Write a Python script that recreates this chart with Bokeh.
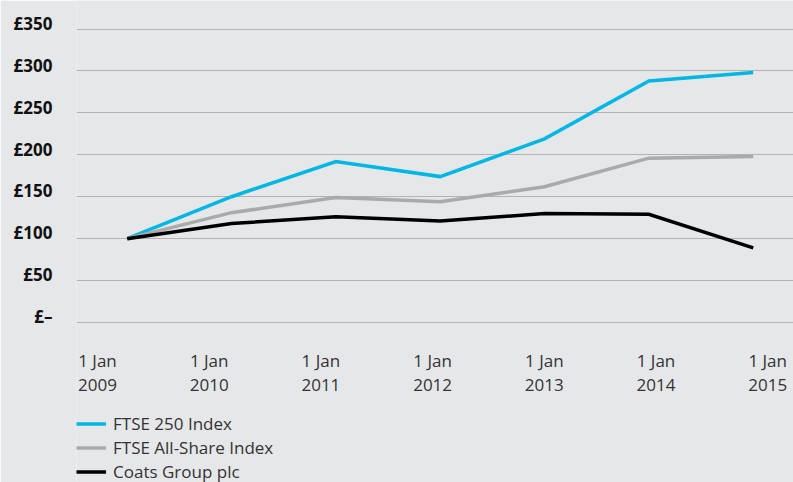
import re
from bokeh.plotting import figure
from bokeh.models import Range1d, LinearAxis, FixedTicker, Legend, LegendItem
from bokeh.embed import file_html
from bokeh.resources import INLINE

# ---- data ----
years = ["2009", "2010", "2011", "2012", "2013", "2014", "2015"]
x_labels = ["1 Jan\n" + y for y in years]
ftse250 = [100, 150, 192, 174, 219, 288, 298]
ftse_all = [100, 131, 149, 144, 162, 196, 198]
coats = [100, 118, 126, 121, 130, 129, 89]
y_ticks = [0, 50, 100, 150, 200, 250, 300, 350]
y_tick_labels = ["£–", "£50", "£100", "£150", "£200", "£250", "£300", "£350"]
series_names = ["FTSE 250 Index", "FTSE All-Share Index", "Coats Group plc"]

BG = "#E6E7E9"
FONT = "Open Sans"

xs = list(range(len(years)))

p = figure(width=793, height=482, output_backend="svg", toolbar_location=None,
           x_range=Range1d(-0.486, 6.386), y_range=Range1d(-190.8, 384.0),
           x_axis_location=None, min_border_left=76, min_border_right=0,
           min_border_top=0, min_border_bottom=0)
p.background_fill_color = BG
p.border_fill_color = BG
p.outline_line_color = None

p.extra_x_ranges = {"lbl": Range1d(-0.188, 6.231)}
xa = LinearAxis(x_range_name="lbl", ticker=FixedTicker(ticks=xs),
                major_label_overrides={i: l for i, l in enumerate(x_labels)},
                fixed_location=0)
xa.axis_line_color = None
xa.major_tick_line_color = None
xa.minor_tick_line_color = None
xa.major_label_standoff = 20
xa.major_label_text_font = FONT
xa.major_label_text_font_size = "17px"
xa.major_label_text_line_height = 1.05
xa.major_label_text_color = "#333333"
p.add_layout(xa, "below")

ya = p.yaxis[0]
ya.ticker = FixedTicker(ticks=y_ticks)
# trailing empty line lifts each label so it sits on its gridline
ya.major_label_overrides = {t: l + "\n" for t, l in zip(y_ticks, y_tick_labels)}
ya.axis_line_color = None
ya.major_tick_line_color = None
ya.minor_tick_line_color = None
ya.major_label_standoff = 18
ya.major_label_text_font = FONT
ya.major_label_text_font_style = "bold"
ya.major_label_text_font_size = "17px"
ya.major_label_text_line_height = 0.5
ya.major_label_text_color = "#111111"

p.xgrid.grid_line_color = None
p.ygrid.ticker = FixedTicker(ticks=y_ticks)
p.ygrid.grid_line_color = "#B3B3B5"
p.ygrid.grid_line_width = 1

colors = ["#00B7E3", "#A9AAAC", "#000000"]
rs = []
for vals, c in zip([ftse250, ftse_all, coats], colors):
    r = p.line(xs, vals, line_color=c, line_width=3.5, line_join="miter")
    rs.append(r)

legend = Legend(items=[LegendItem(label=n, renderers=[r]) for n, r in zip(series_names, rs)],
                location=(0, -1))
legend.background_fill_alpha = 0
legend.border_line_color = None
legend.padding = 0
legend.margin = 0
legend.spacing = 1
legend.glyph_width = 30
legend.glyph_height = 23
legend.label_height = 23
legend.label_standoff = 7
legend.label_text_font = FONT
legend.label_text_font_size = "17px"
legend.label_text_color = "#333333"
p.add_layout(legend, "center")

html = file_html(p, INLINE)
html = re.sub(r"<body([^>]*)>", r'<body\1 style="background-color:%s;">' % BG, html, count=1)
open("out.html", "w").write(html)
